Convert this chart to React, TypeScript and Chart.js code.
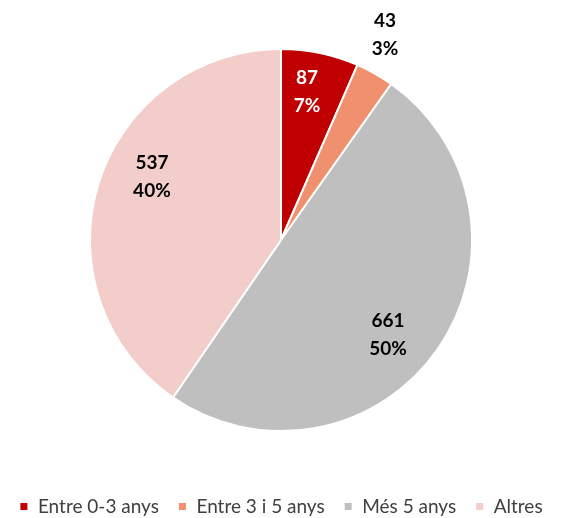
import React, { useEffect, useRef } from "react";
import { Chart, registerables } from "chart.js";

Chart.register(...registerables);

const categories = ["Entre 0-3 anys", "Entre 3 i 5 anys", "Més 5 anys", "Altres"];
const values = [87, 43, 661, 537];
const percentLabels = ["7%", "3%", "50%", "40%"];
const colors = ["#C00000", "#F0906E", "#BFBFBF", "#F2CDC9"];
const labelColors = ["#FFFFFF", "#000000", "#000000", "#000000"];
// label anchoring: radius factor and angle offset (degrees)
const labelRadius = [0.787, 1.204, 0.749, 0.752];
const labelAngleOffset = [-1.8, -2.5, 6.7, 8.8];

const labelPlugin = {
  id: "sliceLabels",
  afterDatasetsDraw(chart: any) {
    const ctx = chart.ctx;
    const meta = chart.getDatasetMeta(0);
    ctx.save();
    ctx.font = "bold 19px Lato, 'Open Sans', sans-serif";
    ctx.textAlign = "center";
    ctx.textBaseline = "middle";
    meta.data.forEach((arc: any, i: number) => {
      const p = arc.getProps(["x", "y", "startAngle", "endAngle", "outerRadius"], true);
      const mid = (p.startAngle + p.endAngle) / 2 + (labelAngleOffset[i] * Math.PI) / 180;
      const r = p.outerRadius * labelRadius[i];
      const cx = p.x + Math.cos(mid) * r;
      const cy = p.y + Math.sin(mid) * r;
      ctx.fillStyle = labelColors[i];
      ctx.fillText(String(values[i]), cx, cy - 14);
      ctx.fillText(percentLabels[i], cx, cy + 14);
    });
    ctx.restore();
  },
};

export default function App() {
  const ref = useRef<HTMLCanvasElement | null>(null);
  useEffect(() => {
    document.body.style.margin = "0";
    const chart = new Chart(ref.current as HTMLCanvasElement, {
      type: "pie",
      data: {
        labels: categories,
        datasets: [
          {
            data: values,
            backgroundColor: colors,
            borderColor: "#FFFFFF",
            borderWidth: 2,
            radius: 191,
          },
        ],
      },
      options: {
        animation: false,
        responsive: false,
        layout: { padding: { top: 0, bottom: 0, left: 0, right: 3 } },
        plugins: {
          tooltip: { enabled: false },
          legend: {
            position: "bottom",
            labels: {
              boxWidth: 9,
              boxHeight: 9,
              padding: 19,
              color: "#404040",
              font: { family: "Lato, 'Open Sans', sans-serif", size: 19 },
            },
          },
        },
      },
      plugins: [labelPlugin],
    });
    return () => chart.destroy();
  }, []);
  return (
    <div style={{ width: 565, height: 518, overflow: "hidden" }}>
      <canvas ref={ref} width={565} height={524} style={{ display: "block", marginTop: 2 }} />
    </div>
  );
}
